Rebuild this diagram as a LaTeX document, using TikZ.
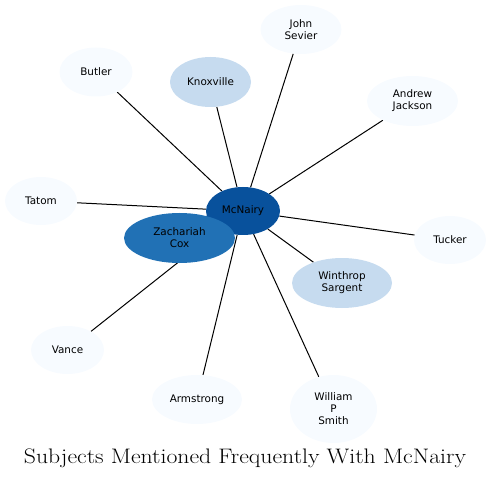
\documentclass[tikz,border=0pt]{standalone}
\usepackage{fontspec}
\newfontfamily\labfont{DejaVu Sans}
\usetikzlibrary{shapes.geometric,backgrounds}
\definecolor{bA}{HTML}{08519C}
\definecolor{bB}{HTML}{2171B5}
\definecolor{bC}{HTML}{C6DBEF}
\definecolor{bD}{HTML}{F7FBFF}
\begin{document}
\begin{tikzpicture}[x=1pt,y=-1pt,
  ent/.style={ellipse,inner sep=0pt,align=center,font=\labfont\fontsize{10.4}{12}\selectfont,text=black},
  link/.style={draw=black,line width=1pt}]
\useasboundingbox (0,0) rectangle (492,478);
\node[ent,fill=bA,minimum width=74pt,minimum height=48pt] (mc) at (243,211) {McNairy};
\node[ent,fill=bB,minimum width=111pt,minimum height=50pt] (cox) at (179.5,238) {Zachariah\\Cox};
\node[ent,fill=bC,minimum width=81pt,minimum height=50pt] (knox) at (210.5,82) {Knoxville};
\node[ent,fill=bD,minimum width=73pt,minimum height=49pt] (butler) at (96,72) {Butler};
\node[ent,fill=bD,minimum width=81pt,minimum height=49pt] (sevier) at (301,29.5) {John\\Sevier};
\node[ent,fill=bD,minimum width=91pt,minimum height=50pt] (jackson) at (412.5,101) {Andrew\\Jackson};
\node[ent,fill=bD,minimum width=72pt,minimum height=48pt] (tatom) at (41,201) {Tatom};
\node[ent,fill=bD,minimum width=72pt,minimum height=48pt] (tucker) at (450,240) {Tucker};
\node[ent,fill=bC,minimum width=100pt,minimum height=50pt] (sargent) at (342,283) {Winthrop\\Sargent};
\node[ent,fill=bD,minimum width=73pt,minimum height=48pt] (vance) at (67.5,350) {Vance};
\node[ent,fill=bD,minimum width=90pt,minimum height=49pt] (arm) at (197,399.5) {Armstrong};
\node[ent,fill=bD,minimum width=87pt,minimum height=68pt] (smith) at (333.5,409) {William\\P\\Smith};
\node[font=\fontsize{21}{24}\selectfont,inner sep=0pt,anchor=base] (title) at (245,463) {\scalebox{1.13}[1]{Subjects Mentioned Frequently With McNairy}};
\begin{pgfonlayer}{background}
\foreach \t in {cox,knox,butler,sevier,jackson,tatom,tucker,sargent,vance,arm,smith}
  \draw[link] (mc) -- (\t);
\end{pgfonlayer}
\end{tikzpicture}
\end{document}
